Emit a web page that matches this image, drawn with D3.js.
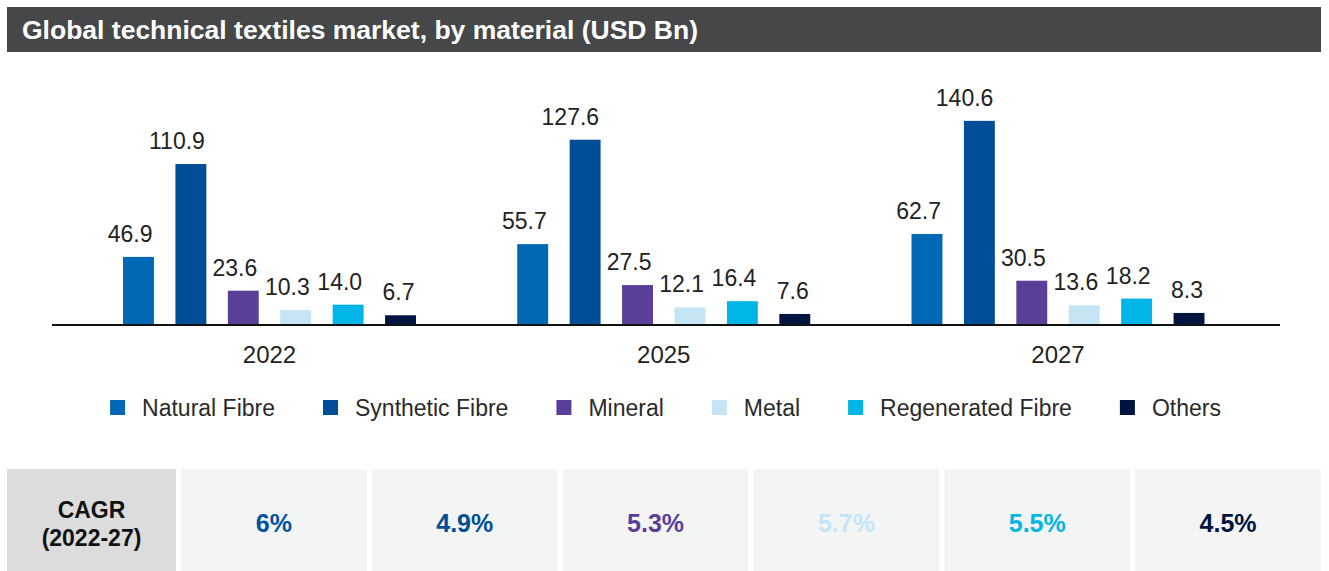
<!DOCTYPE html>
<meta charset="utf-8">
<style>
body { margin: 0; background: #fff; }
svg { display: block; font-family: "Liberation Sans", Arial, sans-serif; }
.title { font: bold 26.5px "Liberation Sans", Arial, sans-serif; fill: #fff; }
.val { font-size: 23px; fill: #222; }
.year { font-size: 24px; fill: #222; }
.leg { font-size: 23px; fill: #2a2a2a; }
.cagr { font: bold 25px "Liberation Sans", Arial, sans-serif; }
.head { font: bold 23px "Liberation Sans", Arial, sans-serif; fill: #111; }
</style>
<svg width="1329" height="571"></svg>
<script src="https://d3js.org/d3.v7.min.js"></script>
<script>

var years = ["2022", "2025", "2027"];
var materials = ["Natural Fibre", "Synthetic Fibre", "Mineral", "Metal", "Regenerated Fibre", "Others"];
var colors = ["#0068b4", "#004e98", "#5a3f99", "#c5e5f5", "#00b5e8", "#00143f"];
var cagrColors = ["#0052a0", "#004e98", "#5a3f99", "#c5e5f5", "#00b5e8", "#00143f"];

// values per material, in order of years
var naturalFibre = [46.9, 55.7, 62.7];
var syntheticFibre = [110.9, 127.6, 140.6];
var mineral = [23.6, 27.5, 30.5];
var metal = [10.3, 12.1, 13.6];
var regeneratedFibre = [14.0, 16.4, 18.2];
var others = [6.7, 7.6, 8.3];
var cagr = ["6%", "4.9%", "5.3%", "5.7%", "5.5%", "4.5%"];

var series = [naturalFibre, syntheticFibre, mineral, metal, regeneratedFibre, others];

var svg = d3.select("svg");

// title bar
svg.append("rect").attr("x", 7).attr("y", 7).attr("width", 1314).attr("height", 45).attr("fill", "#464749");
svg.append("text").attr("class", "title").attr("x", 22).attr("y", 39)
  .text("Global technical textiles market, by material (USD Bn)");

var baseY = 325;
var x0 = d3.scalePoint().domain(years).range([269.5, 1058]);
var x1 = d3.scaleBand().domain(materials).range([-146.5, 146.5]).paddingInner(0.41).paddingOuter(0);
var y = d3.scaleLinear().domain([0, 150]).range([baseY, 107.2]);

var flat = [];
years.forEach(function(yr, i) {
  materials.forEach(function(m, j) {
    flat.push({ year: yr, mat: m, v: series[j][i], c: colors[j] });
  });
});

var g = svg.append("g");
g.selectAll("rect.bar").data(flat).enter().append("rect")
    .attr("class", "bar")
    .attr("x", function(d) { return x0(d.year) + x1(d.mat); })
    .attr("y", function(d) { return y(d.v); })
    .attr("width", x1.bandwidth())
    .attr("height", function(d) { return baseY - y(d.v); })
    .attr("fill", function(d) { return d.c; });

g.selectAll("text.val").data(flat).enter().append("text")
    .attr("class", "val")
    .attr("text-anchor", "end")
    .attr("x", function(d) { return x0(d.year) + x1(d.mat) + x1.bandwidth() / 2 + 14; })
    .attr("y", function(d) { return y(d.v) - 15; })
    .text(function(d) { return d.v.toFixed(1); });

// axis line
svg.append("line").attr("x1", 52).attr("x2", 1280).attr("y1", baseY).attr("y2", baseY)
  .attr("stroke", "#111").attr("stroke-width", 2);

svg.selectAll("text.year").data(years).enter().append("text")
    .attr("class", "year")
    .attr("text-anchor", "middle")
    .attr("x", function(d) { return x0(d); })
    .attr("y", 363)
    .text(function(d) { return d; });

// legend, flowed and centred
var leg = svg.append("g");
var items = leg.selectAll("g").data(materials).enter().append("g");
items.append("rect").attr("width", 15).attr("height", 15).attr("y", 400)
  .attr("fill", function(d, i) { return colors[i]; });
items.append("text").attr("class", "leg").attr("x", 32).attr("y", 416).text(function(d) { return d; });
var cx = 0, itemGap = 48;
items.each(function() {
  var w = 32 + this.querySelector("text").getComputedTextLength();
  d3.select(this).attr("transform", "translate(" + cx + ",0)");
  cx += w + itemGap;
});
var legW = cx - itemGap;
leg.attr("transform", "translate(" + (665.5 - legW / 2) + ",0)");

// CAGR table
var tTop = 469, firstW = 169, gap = 5;
var cellW = (1314 - firstW - gap * 6) / 6;
svg.append("rect").attr("x", 7).attr("y", tTop).attr("width", firstW).attr("height", 571 - tTop).attr("fill", "#dcdcdc");
svg.append("text").attr("class", "head").attr("text-anchor", "middle").attr("x", 7 + firstW / 2).attr("y", 518).text("CAGR");
svg.append("text").attr("class", "head").attr("text-anchor", "middle").attr("x", 7 + firstW / 2).attr("y", 546).text("(2022-27)");

var cells = svg.selectAll("g.cell").data(cagr).enter().append("g")
    .attr("class", "cell")
    .attr("transform", function(d, i) { return "translate(" + (7 + firstW + gap + i * (cellW + gap)) + "," + tTop + ")"; });
cells.append("rect").attr("width", cellW).attr("height", 571 - tTop).attr("fill", "#f3f5f5");
cells.append("text").attr("class", "cagr").attr("text-anchor", "middle")
    .attr("x", cellW / 2).attr("y", 63)
    .attr("fill", function(d, i) { return cagrColors[i]; })
    .text(function(d) { return d; });

</script>
